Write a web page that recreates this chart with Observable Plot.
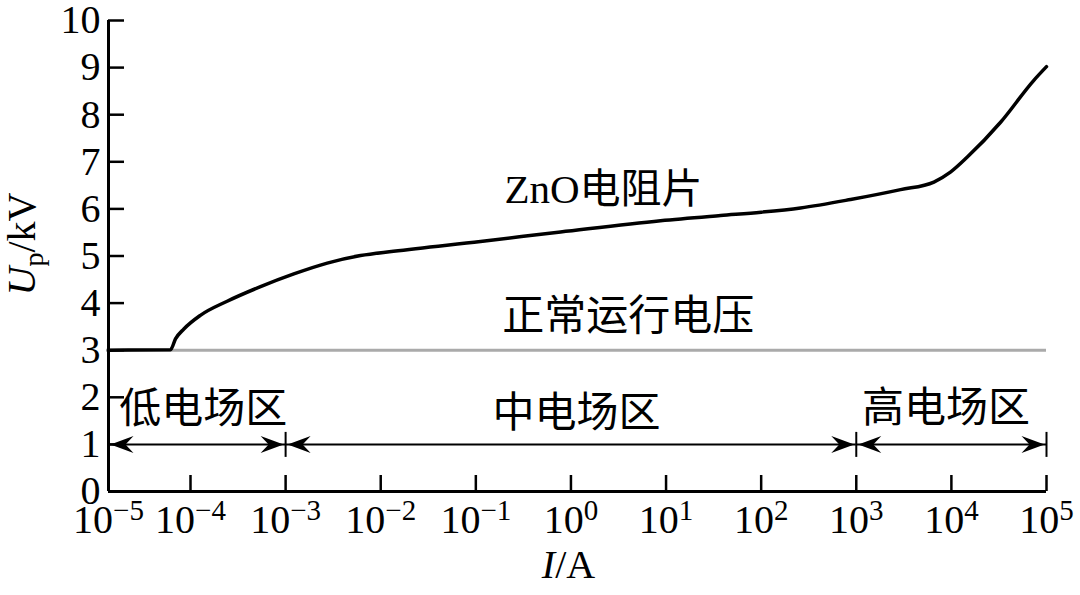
<!DOCTYPE html>
<html><head><meta charset="utf-8">
<script src="https://cdn.jsdelivr.net/npm/d3@7"></script>
<script src="https://cdn.jsdelivr.net/npm/@observablehq/plot@0.6"></script>
<style>
html,body{margin:0;padding:0;background:#fff;}
#chart svg{display:block;}
</style>
</head><body><div id="chart"></div>
<script>
// ZnO varistor V-I curve (current in A, residual voltage in kV)
const currentA  = [1e-5, 5.7e-5, 6.56e-5, 8.3e-5, 1.27e-4, 2.43e-4, 5.45e-4, 1.22e-3, 2.74e-3, 6.14e-3, 1.36e-2, 0.112, 0.778, 8.75, 37.4, 100, 259, 871, 2925, 6550, 9770, 1.47e4, 3.29e4, 7.36e4, 1e5];
const voltageKV = [3.0, 3.01, 3.24, 3.45, 3.74, 4.04, 4.35, 4.62, 4.85, 5.01, 5.10, 5.31, 5.51, 5.75, 5.86, 5.93, 6.02, 6.20, 6.41, 6.57, 6.78, 7.10, 7.84, 8.73, 9.02];

const normalVoltage = 3;                 // 正常运行电压 (kV)
const xTicks   = [1e-5, 1e-4, 1e-3, 1e-2, 1e-1, 1, 10, 100, 1e3, 1e4, 1e5];
const xTickExp = ["−5", "−4", "−3", "−2", "−1", "0", "1", "2", "3", "4", "5"];
const yTicks   = [0, 1, 2, 3, 4, 5, 6, 7, 8, 9, 10];

const regionNames  = ["低电场区", "中电场区", "高电场区"];
const regionFrom   = [1e-5, 1e-3, 1e3];
const regionTo     = [1e-3, 1e3, 1e5];
const regionArrowU = 1;
const regionLabelI = [1.35e-5, 0.15, 1150];
const regionLabelU = [1.74, 1.66, 1.77];

const curveLabel = "ZnO电阻片";
const curveLabelI = 0.2, curveLabelU = 6.41;
const lineLabel = "正常运行电压";
const lineLabelI = 0.19, lineLabelU = 3.72;

const curveData = currentA.map((I, i) => ({I, U: voltageKV[i]}));
const regions = regionNames.map((name, i) => ({name, from: regionFrom[i], to: regionTo[i], lx: regionLabelI[i], ly: regionLabelU[i]}));

// filled "stealth" arrowhead, tip at origin pointing right
const arrowHead = {
  draw(ctx) {
    ctx.moveTo(0, 0);
    ctx.lineTo(-23, -8.5);
    ctx.lineTo(-15, 0);
    ctx.lineTo(-23, 8.5);
    ctx.closePath();
  }
};

const FONT = "'Liberation Serif', 'Times New Roman', 'Noto Sans CJK SC', serif";

const chart = Plot.plot({
  width: 1080,
  height: 595,
  marginLeft: 108,
  marginRight: 34,
  marginTop: 20,
  marginBottom: 104,
  style: {fontFamily: FONT, fontSize: "40px", color: "black", background: "white", overflow: "visible"},
  x: {type: "log", domain: [1e-5, 1e-4, 1e5], range: [108, 190, 1046]},
  y: {domain: [0, 10]},
  marks: [
    Plot.ruleY([normalVoltage], {x1: 1e-5, x2: 1e5, stroke: "#aaaaaa", strokeWidth: 3, insetLeft: -2}),
    Plot.line(curveData, {x: "I", y: "U", curve: "monotone-x", stroke: "black", strokeWidth: 3.5}),
    Plot.ruleY([0], {stroke: "black", strokeWidth: 3}),
    Plot.ruleX([1e-5], {stroke: "black", strokeWidth: 3}),
    Plot.axisY({ticks: yTicks, tickSize: -16, strokeWidth: 2.5, fill: "none", label: null}),
    Plot.axisX({ticks: xTicks, tickSize: -16, strokeWidth: 2.5, fill: "none", label: null}),
    Plot.axisY({ticks: yTicks, tickSize: 0, tickPadding: 8, fontSize: 40, label: null, tickFormat: d => String(d)}),
    Plot.axisX({ticks: xTicks, tickSize: 0, tickPadding: 13, fontSize: 40, label: null,
      tickFormat: d => "10" + xTickExp[xTicks.indexOf(d)]}),
    Plot.ruleY(regions, {x1: "from", x2: "to", y: () => regionArrowU, stroke: "black", strokeWidth: 2}),
    Plot.ruleX(regionTo, {x: d => d, y1: regionArrowU, y2: regionArrowU, insetTop: -12, insetBottom: -13, stroke: "black", strokeWidth: 2}),
    Plot.dot(regionFrom, {x: d => d, y: () => regionArrowU, symbol: arrowHead, rotate: 180, dx: 2, fill: "black", stroke: "none"}),
    Plot.dot(regionTo, {x: d => d, y: () => regionArrowU, symbol: arrowHead, rotate: 0, dx: -2, fill: "black", stroke: "none"}),
    Plot.text(regions, {x: "lx", y: "ly", text: "name", textAnchor: "start", fontSize: 42, fill: "black"}),
    Plot.text([curveLabel], {x: curveLabelI, y: curveLabelU, text: d => d, textAnchor: "start", fontSize: 41, fill: "black"}),
    Plot.text([lineLabel], {x: lineLabelI, y: lineLabelU, text: d => d, textAnchor: "start", fontSize: 42, fill: "black"}),
    Plot.text(["Up/kV"], {frameAnchor: "left", rotate: -90, dx: -86, dy: -12, textAnchor: "middle", fontSize: 40, fill: "black"}),
    Plot.text(["I/A"], {frameAnchor: "bottom", dx: -9, dy: 86, textAnchor: "middle", fontSize: 40, fill: "black"})
  ]
});

document.getElementById("chart").appendChild(chart);

const SVGNS = "http://www.w3.org/2000/svg";
function tspan(txt, attrs) {
  const s = document.createElementNS(SVGNS, "tspan");
  for (const k in attrs) s.setAttribute(k, attrs[k]);
  s.textContent = txt;
  return s;
}
chart.querySelectorAll("text").forEach(t => {
  const s = t.textContent;
  const m = s.match(/^10(−?\d)$/);
  if (m && t.children.length === 0) {
    t.textContent = "";
    t.appendChild(document.createTextNode("10"));
    t.appendChild(tspan(m[1], {dy: "-13", "font-size": "29"}));
  } else if (s === "Up/kV") {
    t.textContent = "";
    t.appendChild(tspan("U", {"font-style": "italic"}));
    t.appendChild(tspan("p", {"font-size": "28", dy: "8"}));
    t.appendChild(tspan("/kV", {dy: "-8"}));
  } else if (s === "I/A") {
    t.textContent = "";
    t.appendChild(tspan("I", {"font-style": "italic"}));
    t.appendChild(document.createTextNode("/A"));
  }
});
</script>
</body></html>
